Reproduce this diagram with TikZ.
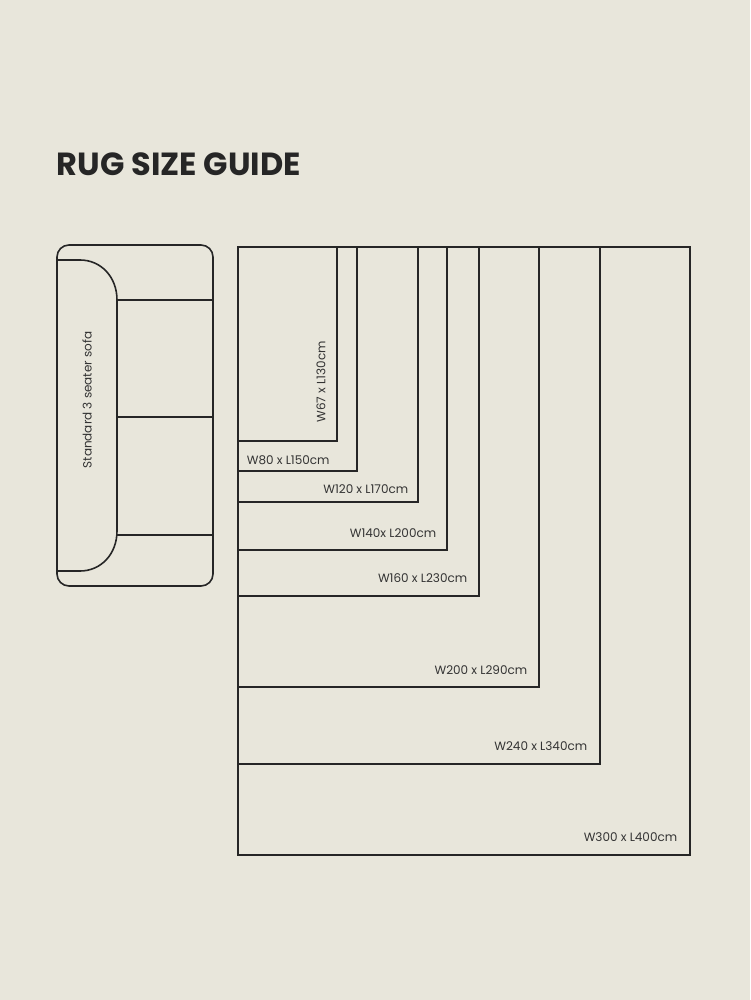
\documentclass[tikz,border=0pt]{standalone}
\usepackage{fontspec}
\setmainfont{Poppins}
\begin{document}
\begin{tikzpicture}[x=1pt,y=-1pt,line width=1.6pt,
  lbl/.style={font=\fontsize{12}{14}\selectfont,text=black!80,inner sep=0pt},
  rug/.style={draw=black!85}]
\fill[fill={rgb,255:red,232;green,230;blue,219}] (0,0) rectangle (750,1000);
\useasboundingbox (0,0) rectangle (750,1000);
\node[anchor=base west,inner sep=0pt,font=\fontsize{32}{36}\selectfont\bfseries,text=black!85] (title) at (56,176) {RUG SIZE GUIDE};
% sofa
\draw[rug,rounded corners=12] (57,245) rectangle (213,586);
\draw[rug] (57,260) -- (80,260) .. controls (101,260) and (117,277) .. (117,300) -- (117,531) .. controls (117,554) and (101,571) .. (80,571) -- (57,571);
\draw[rug] (117,300) -- (213,300);
\draw[rug] (117,417) -- (213,417);
\draw[rug] (117,535) -- (213,535);
\node[lbl,rotate=90] (sofa) at (87,400) {Standard 3 seater sofa};
% rugs
\draw[rug] (238,247) rectangle (690,855);
\draw[rug] (238,247) rectangle (600,764);
\draw[rug] (238,247) rectangle (539,687);
\draw[rug] (238,247) rectangle (479,596);
\draw[rug] (238,247) rectangle (447,550);
\draw[rug] (238,247) rectangle (418,502);
\draw[rug] (238,247) rectangle (357,471);
\draw[rug] (238,247) rectangle (337,441);
\node[lbl,rotate=90] (r1) at (321,382) {W67 x L130cm};
\node[lbl,anchor=west] (r2) at (246,460) {W80 x L150cm};
\node[lbl,anchor=east] (r3) at (409,489) {W120 x L170cm};
\node[lbl,anchor=east] (r4) at (437,533) {W140x L200cm};
\node[lbl,anchor=east] (r5) at (468,578) {W160 x L230cm};
\node[lbl,anchor=east] (r6) at (528,670) {W200 x L290cm};
\node[lbl,anchor=east] (r7) at (588,746) {W240 x L340cm};
\node[lbl,anchor=east] (r8) at (678,837) {W300 x L400cm};
\end{tikzpicture}
\end{document}
